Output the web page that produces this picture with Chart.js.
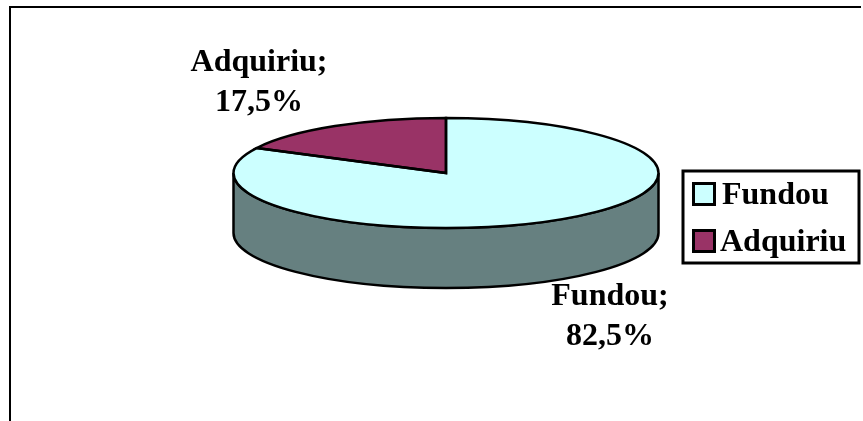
<!DOCTYPE html>
<html>
<head>
<meta charset="utf-8">
<script src="https://cdn.jsdelivr.net/npm/chart.js@4"></script>
<style>
  html, body { margin: 0; background: #fff; }
  #wrap { position: relative; width: 863px; height: 421px; }
</style>
</head>
<body>
<div id="wrap"><canvas id="myChart" width="863" height="421"></canvas></div>
<script>
const categories = ['Fundou', 'Adquiriu'];
const values = [82.5, 17.5];
const valueLabels = ['82,5%', '17,5%'];
const topColors = ['#CCFFFF', '#993366'];
const sideColors = ['#668080', '#4D1A33'];

const FONT = 'bold 32px "Liberation Serif"';
const LINE = 2.5;

// ellipse of the tilted pie on the page
const pie3d = { cx: 446, cy: 173, rx: 212.5, ry: 55, depth: 60 };
// label anchor per slice (centre of the text block)
const labelPos = [{ x: 610, y: 316.5 }, { x: 259, y: 82.5 }];

// the pie itself is a normal Chart.js pie, squashed with the canvas transform
const tiltPlugin = {
  id: 'tilt',
  beforeDatasetsDraw(chart) {
    const ctx = chart.ctx;
    const arcs = chart.getDatasetMeta(0).data;
    ctx.lineWidth = LINE;
    ctx.strokeStyle = '#000';
    // side wall, only the part of each slice that faces the viewer
    arcs.forEach((arc, i) => {
      const a = Math.max(arc.startAngle, 0);
      const b = Math.min(arc.endAngle, Math.PI);
      if (b <= a) return;
      ctx.beginPath();
      ctx.ellipse(pie3d.cx, pie3d.cy, pie3d.rx, pie3d.ry, 0, a, b);
      ctx.ellipse(pie3d.cx, pie3d.cy + pie3d.depth, pie3d.rx, pie3d.ry, 0, b, a, true);
      ctx.closePath();
      ctx.fillStyle = sideColors[i];
      ctx.fill();
      ctx.stroke();
    });
    const arc = arcs[0];
    ctx.save();
    ctx.translate(pie3d.cx, pie3d.cy);
    ctx.scale(pie3d.rx / arc.outerRadius, pie3d.ry / arc.outerRadius);
    ctx.translate(-arc.x, -arc.y);
  },
  afterDatasetsDraw(chart) {
    const ctx = chart.ctx;
    ctx.restore();
    // outlines drawn unscaled so the line stays even
    chart.getDatasetMeta(0).data.forEach(arc => {
      ctx.beginPath();
      ctx.moveTo(pie3d.cx, pie3d.cy);
      ctx.ellipse(pie3d.cx, pie3d.cy, pie3d.rx, pie3d.ry, 0, arc.startAngle, arc.endAngle);
      ctx.closePath();
      ctx.lineWidth = LINE;
      ctx.strokeStyle = '#000';
      ctx.stroke();
    });
  }
};

const textPlugin = {
  id: 'texts',
  afterDraw(chart) {
    const ctx = chart.ctx;
    ctx.save();
    // outer frame, bottom and right sides are cut off in the original
    ctx.strokeStyle = '#000';
    ctx.lineWidth = 2;
    ctx.beginPath();
    ctx.moveTo(10, 421);
    ctx.lineTo(10, 7);
    ctx.lineTo(861, 7);
    ctx.stroke();

    ctx.font = FONT;
    ctx.fillStyle = '#000';
    ctx.textBaseline = 'middle';
    ctx.textAlign = 'center';
    categories.forEach((name, i) => {
      ctx.fillText(name + ';', labelPos[i].x, labelPos[i].y - 20);
      ctx.fillText(valueLabels[i], labelPos[i].x, labelPos[i].y + 20);
    });

    // legend
    ctx.lineWidth = 3;
    ctx.strokeRect(683, 171, 176, 92);
    ctx.textAlign = 'left';
    categories.forEach((name, i) => {
      const y = 194 + i * 47;
      ctx.fillStyle = topColors[i];
      ctx.fillRect(693.5, y - 10.5, 21, 21);
      ctx.strokeRect(693.5, y - 10.5, 21, 21);
      ctx.fillStyle = '#000';
      ctx.fillText(name, i === 0 ? 722 : 720, y + 2);
    });
    ctx.restore();
  }
};

new Chart(document.getElementById('myChart'), {
  type: 'pie',
  data: {
    labels: categories,
    datasets: [{ data: values, backgroundColor: topColors, borderWidth: 0 }]
  },
  options: {
    responsive: false,
    animation: false,
    plugins: { legend: { display: false }, tooltip: { enabled: false } }
  },
  plugins: [tiltPlugin, textPlugin]
});
</script>
</body>
</html>
